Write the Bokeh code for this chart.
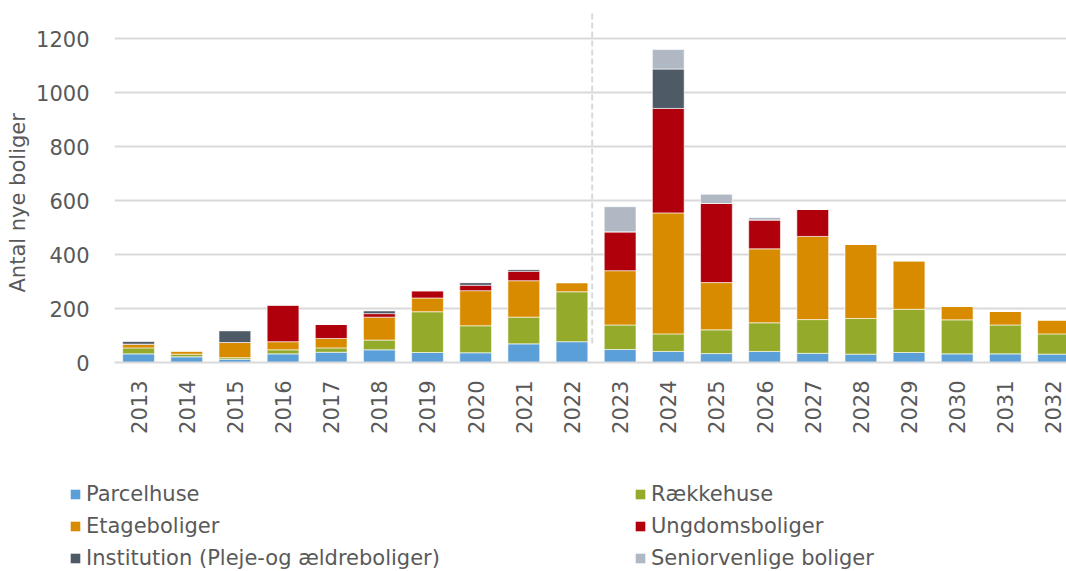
from math import pi
from bokeh.plotting import figure
from bokeh.models import ColumnDataSource, Range1d, FixedTicker, Legend, Title
from bokeh.embed import file_html
from bokeh.resources import INLINE

years = [2013, 2014, 2015, 2016, 2017, 2018, 2019, 2020, 2021, 2022,
         2023, 2024, 2025, 2026, 2027, 2028, 2029, 2030, 2031, 2032]
parcelhuse = [32, 21, 12, 32, 38, 47, 37, 36, 69, 77, 48, 41, 33, 41, 34, 31, 37, 32, 32, 31]
raekkehuse = [22, 10, 6, 15, 16, 36, 151, 100, 99, 185, 91, 65, 88, 106, 125, 132, 160, 126, 107, 75]
etageboliger = [14, 12, 56, 30, 35, 85, 51, 130, 135, 34, 201, 448, 175, 274, 308, 274, 180, 50, 50, 52]
ungdomsboliger = [0, 0, 0, 136, 52, 13, 27, 20, 35, 0, 144, 387, 293, 107, 100, 0, 0, 0, 0, 0]
institution = [11, 0, 44, 0, 0, 11, 0, 10, 7, 0, 0, 146, 0, 0, 0, 0, 0, 0, 0, 0]
seniorvenlige = [0, 0, 0, 0, 0, 0, 0, 0, 0, 0, 93, 72, 34, 9, 0, 0, 0, 0, 0, 0]

series = ["Parcelhuse", "Rækkehuse", "Etageboliger", "Ungdomsboliger",
          "Institution (Pleje-og ældreboliger)", "Seniorvenlige boliger"]
colors = ["#5B9FD9", "#94AA2A", "#D98B00", "#B0000B", "#4E5A66", "#B0B9C3"]
y_ticks = [0, 200, 400, 600, 800, 1000, 1200]
split_year = 2022.42

keys = ["p", "r", "e", "u", "i", "s"]
source = ColumnDataSource(dict(x=years, p=parcelhuse, r=raekkehuse, e=etageboliger,
                               u=ungdomsboliger, i=institution, s=seniorvenlige))

FONT = "DejaVu Sans"
FS = "21px"
GREY = "#595959"

p = figure(width=1066, height=440, output_backend="svg", toolbar_location=None,
           x_range=Range1d(2012.5, 2032.27), y_range=Range1d(0, 1300),
           min_border_left=114, min_border_right=0, min_border_top=11, min_border_bottom=78)
p.outline_line_color = None

renderers = p.vbar_stack(keys, x="x", width=0.66, source=source, color=colors,
                         line_color="white", line_width=0.6)

p.segment(x0=[split_year], x1=[split_year], y0=[70], y1=[1300],
          line_color="#D9D9D9", line_width=2, line_dash="6 3")

# axes
p.xaxis.ticker = FixedTicker(ticks=years)
p.xaxis.major_label_orientation = pi / 2
p.xaxis.major_label_text_font = FONT
p.xaxis.major_label_text_font_size = FS
p.xaxis.major_label_text_color = GREY
p.xaxis.major_tick_line_color = None
p.xaxis.minor_tick_line_color = None
p.xaxis.axis_line_color = "#D9D9D9"
p.xaxis.axis_line_width = 2
p.xaxis.major_label_standoff = 12

p.yaxis.ticker = FixedTicker(ticks=y_ticks)
p.yaxis.major_label_text_font = FONT
p.yaxis.major_label_text_font_size = FS
p.yaxis.major_label_text_color = GREY
p.yaxis.major_tick_line_color = None
p.yaxis.minor_tick_line_color = None
p.yaxis.axis_line_color = None
p.yaxis.major_label_standoff = 19

# y-axis title placed as a left-side title so it can sit a little below the frame centre
ytitle = Title(text="Antal nye boliger", align="left", offset=70, standoff=7,
               text_font=FONT, text_font_size=FS, text_font_style="normal",
               text_color=GREY)
p.add_layout(ytitle, "left")

p.xgrid.grid_line_color = None
p.ygrid.grid_line_color = "#D9D9D9"
p.ygrid.grid_line_width = 2

# legend panel: a separate figure under the chart; its proxy glyphs have zero size
lg = figure(width=1066, height=131, output_backend="svg", toolbar_location=None,
            x_range=Range1d(0, 1), y_range=Range1d(0, 1),
            x_axis_type=None, y_axis_type=None,
            min_border_left=0, min_border_right=0, min_border_top=0, min_border_bottom=0)
lg.outline_line_color = None
lg.xgrid.grid_line_color = None
lg.ygrid.grid_line_color = None
proxies = [lg.vbar(x=[0.5], top=[0], bottom=0, width=0, fill_color=c, line_color=None)
           for c in colors]

legend = Legend(items=[(name, [r]) for name, r in zip(series, proxies)],
                location=(69, 1), orientation="horizontal", ncols=2,
                glyph_width=12, glyph_height=12, label_standoff=5,
                label_width=540, label_height=24, spacing=8,
                padding=0, margin=0, border_line_color=None,
                background_fill_alpha=0,
                label_text_font=FONT, label_text_font_size=FS,
                label_text_color=GREY)
lg.add_layout(legend, "center")

open("out.html", "w").write(file_html([p, lg], INLINE))
